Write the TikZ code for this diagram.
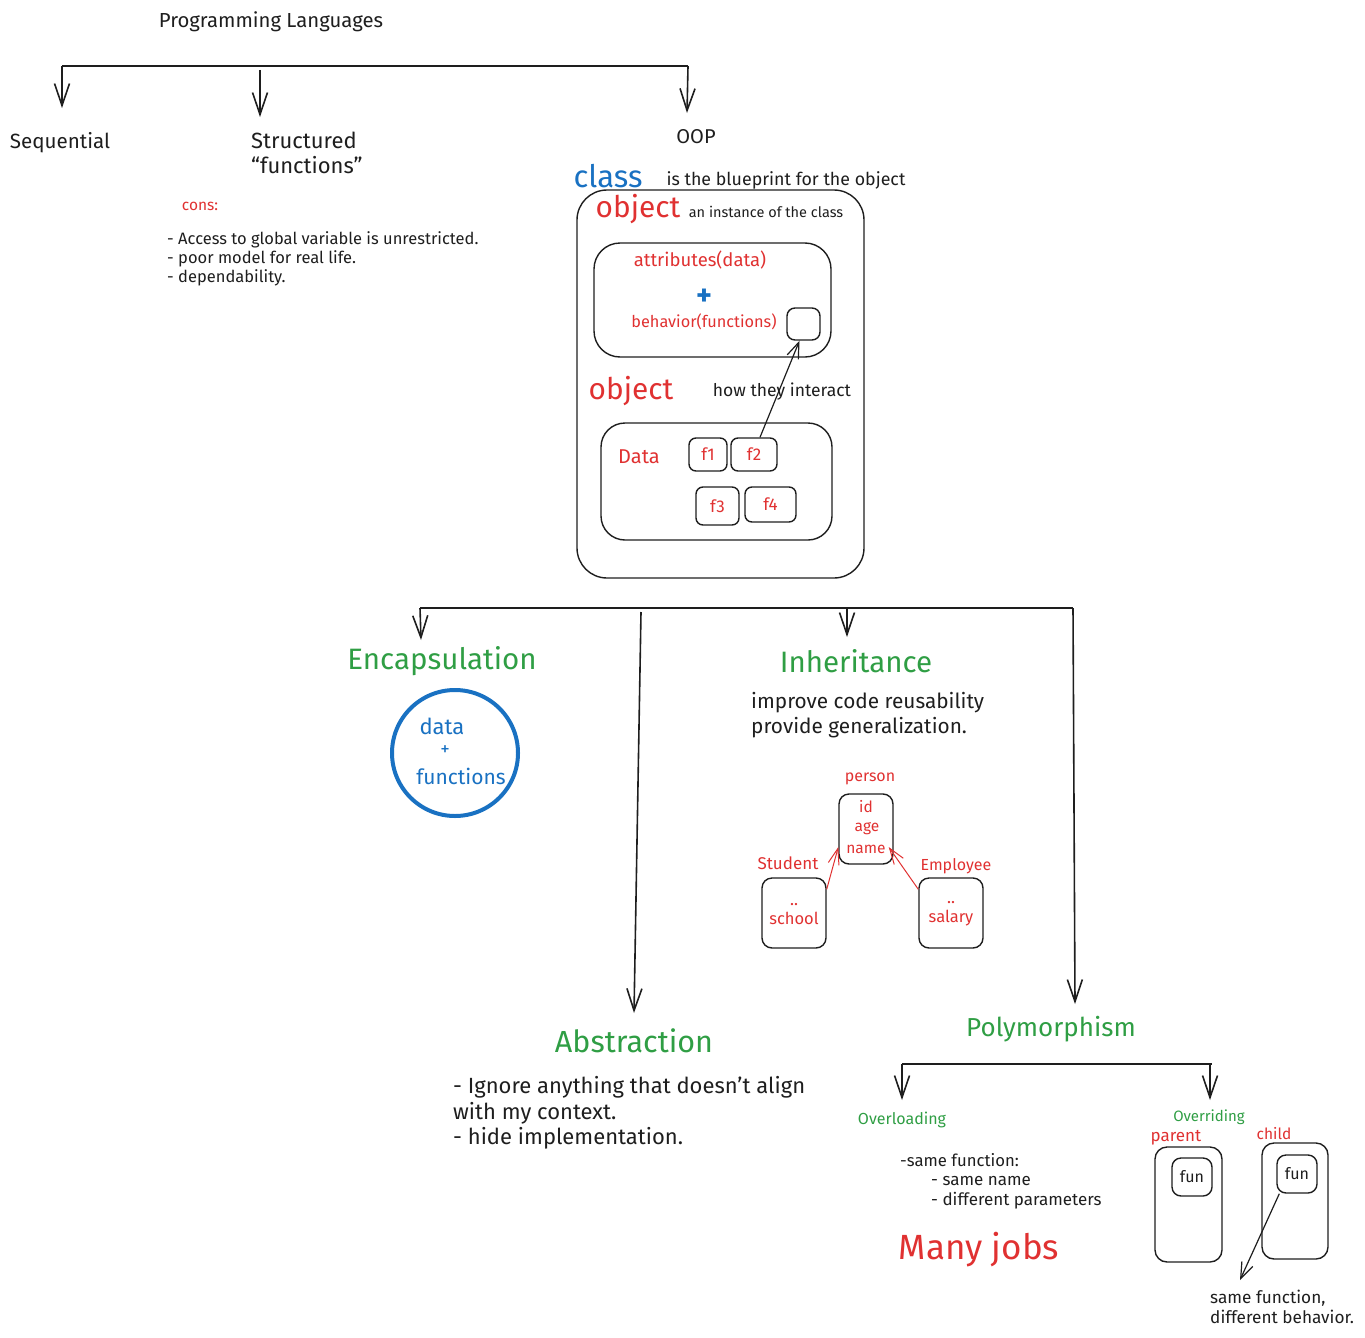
\documentclass[tikz,border=0pt]{standalone}
\usepackage{fontspec}
\setmainfont{Fira Sans}
\usetikzlibrary{arrows.meta}
\definecolor{inkred}{HTML}{E03131}
\definecolor{inkblue}{HTML}{1971C2}
\definecolor{inkgreen}{HTML}{2F9E44}
\definecolor{ink}{HTML}{1E1E1E}
\newcommand{\fs}[1]{\fontsize{#1}{\fpeval{1.17*#1}}\selectfont}
\tikzset{
  txt/.style={inner sep=0pt, text=ink, font=\fs{#1}},
  txt/.default=16,
  rtxt/.style={txt=#1, text=inkred},
  gtxt/.style={txt=#1, text=inkgreen},
  btxt/.style={txt=#1, text=inkblue},
  box/.style={draw=ink, line width=1.4pt, rounded corners=#1},
  box/.default=10pt,
  tree/.style={draw=ink, line width=1.6pt},
  arr/.style={draw=ink, line width=1.6pt, -{Straight Barb[length=22pt,width=15pt,line width=1.6pt]}},
  thin arr/.style={draw=ink, line width=1.2pt, -{Straight Barb[length=16pt,width=12pt,line width=1.2pt]}},
  red arr/.style={draw=inkred, line width=1pt, -{Straight Barb[length=16pt,width=11pt,line width=1pt]}},
}
\begin{document}
\begin{tikzpicture}[x=1pt,y=-1pt]
\useasboundingbox (0,0) rectangle (1365,1338);

%% ---------- Programming languages tree ----------
\node[txt=20.3] (pl) at (271,22) {Programming Languages};
\coordinate (tl) at (62,66);
\coordinate (tr) at (688,66);
\coordinate (ts) at (260,70);
\draw[tree, line width=2.6pt] (tl) -- (tr);
\node[txt=20.6] (seq) at (60,143) {Sequential};
\node[txt=22, anchor=west, align=left] (str) at (251,153) {Structured\\``functions''};
\node[txt=20] (oop) at (696,137) {OOP};
\coordinate (seqin) at (62,108);
\coordinate (strin) at (260,117);
\coordinate (oopin) at (687,113);
\draw[arr] (tl) -- (seqin);
\draw[arr] (ts) -- (strin);
\draw[arr] (tr) -- (oopin);

%% cons of structured programming
\node[rtxt=15.5] (cons) at (200,206) {cons:};
\node[txt=16.5, anchor=west, align=left] (conslist) at (167,259)
  {- Access to global variable is unrestricted.\\
   - poor model for real life.\\
   - dependability.};

%% ---------- class / object ----------
\node[btxt=31] (cls) at (608,176) {class};
\node[txt=17.8] (clsd) at (786,180) {is the blueprint for the object};
\node[box=30pt, minimum width=287pt, minimum height=388pt] (outer) at (720.5,384) {};
\node[rtxt=29.8] (obj1) at (638,209) {object};
\node[txt=14.5] (obj1d) at (766,212) {an instance of the class};

\node[box=26pt, minimum width=237pt, minimum height=114pt] (ab) at (712.5,300) {};
\node[rtxt=18.5] (attr) at (700,260) {attributes(data)};
\node[btxt=30, font=\bfseries\fs{30}] (plus) at (704,297) {+};
\node[rtxt=16.3] (beh) at (704,322) {behavior(functions)};
\node[box=8pt, minimum width=33pt, minimum height=32pt] (slot) at (803.5,324) {};

\node[rtxt=29.8] (obj2) at (631,391) {object};
\node[txt=17.5] (howi) at (782,392) {how they interact};

\node[box=24pt, minimum width=231pt, minimum height=117pt] (ob) at (716.5,481.5) {};
\node[rtxt=20] (data) at (639,457) {Data};
\node[box=7pt, rtxt=17, minimum width=38pt, minimum height=33pt] (f1) at (708,454.5) {f1};
\node[box=7pt, rtxt=17, minimum width=46pt, minimum height=33pt] (f2) at (754,454.5) {f2};
\node[box=7pt, rtxt=17, minimum width=43pt, minimum height=38pt] (f3) at (717.5,506) {f3};
\node[box=7pt, rtxt=17, minimum width=51pt, minimum height=35pt] (f4) at (770.5,504.5) {f4};
\draw[thin arr] ([xshift=6pt]f2.north) -- ([xshift=-4pt]slot.south);

%% ---------- four pillars ----------
\coordinate (pl4) at (420,608);
\coordinate (pr4) at (1073,608);
\coordinate (pa) at (641,612);
\coordinate (pi) at (847,608);
\draw[tree] (pl4) -- (pr4);
\coordinate (encin) at (421,640);
\coordinate (inhin) at (847,637);
\coordinate (absin) at (634,1013);
\coordinate (polyin) at (1075,1004);

\node[gtxt=29.5] (enc) at (442,661) {Encapsulation};
\draw[arr] (pl4) -- (encin);
\node[circle, draw=inkblue, line width=4pt, minimum size=126pt] (cap) at (455,753) {};
\node[btxt=22] (capd) at (442,726) {data};
\node[btxt=19] (capp) at (445,751) {+};
\node[btxt=21] (capf) at (461,776) {functions};

\node[gtxt=29.5] (inh) at (856,661) {Inheritance};
\draw[arr] (pi) -- (inhin);
\node[txt=20.8, anchor=west, align=left] (inhd) at (751,715)
  {improve code reusability\\provide generalization.};

\node[rtxt=16] (personl) at (870,779) {person};
\node[box=10pt, minimum width=54pt, minimum height=70pt] (person) at (866,829) {};
\node[rtxt=15.5] (pid) at (866,807) {id};
\node[rtxt=15.5] (page) at (867,829) {age};
\node[rtxt=15.5] (pname) at (866,849) {name};
\node[rtxt=17] (studl) at (788,863) {Student};
\node[box=10pt, minimum width=64pt, minimum height=70pt] (stud) at (794,913) {};
\node[rtxt=16.5, align=center] (studd) at (794,914) {..\\school};
\node[rtxt=16] (empl) at (956,866) {Employee};
\node[box=10pt, minimum width=64pt, minimum height=70pt] (emp) at (951,913) {};
\node[rtxt=16.5, align=center] (empd) at (951,914) {..\\salary};
\draw[red arr] ([yshift=-12pt]stud.north east) -- ([yshift=-18pt]person.west);
\draw[red arr] ([yshift=-12pt]emp.north west) -- ([xshift=-5pt,yshift=-18pt]person.east);

\node[gtxt=30.5] (abs) at (634,1041) {Abstraction};
\draw[arr] (pa) -- (absin);
\node[txt=22, anchor=west, align=left] (absd) at (453,1113)
  {- Ignore anything that doesn't align\\with my context.\\- hide implementation.};

\node[gtxt=26] (poly) at (1051,1029) {Polymorphism};
\draw[arr] (pr4) -- (polyin);

%% ---------- polymorphism ----------
\coordinate (yl) at (902,1064);
\coordinate (yr) at (1212,1064);
\coordinate (ovlin) at (902,1100);
\coordinate (ovrin) at (1210,1100);
\draw[tree] (yl) -- (yr);
\node[gtxt=16] (ovl) at (902,1120) {Overloading};
\node[gtxt=15] (ovr) at (1209,1117) {Overriding};
\draw[arr] (yl) -- (ovlin);
\draw[arr] ([xshift=-2pt]yr) -- (ovrin);

\node[txt=16.7, anchor=west] (sf) at (900,1160) {-same function:};
\node[txt=17, anchor=west, align=left] (sfl) at (931,1193)
  {- same name\\- different parameters};
\node[rtxt=35] (many) at (979,1250) {Many jobs};

\node[rtxt=17] (parl) at (1176,1138) {parent};
\node[rtxt=15.5] (chl) at (1274,1134) {child};
\node[box=12pt, minimum width=67pt, minimum height=115pt] (par) at (1188.5,1204.5) {};
\node[box=9pt, txt=16, minimum width=40pt, minimum height=38pt] (parf) at (1192,1177) {fun};
\node[box=12pt, minimum width=66pt, minimum height=116pt] (chi) at (1295,1201) {};
\node[box=9pt, txt=16, minimum width=40pt, minimum height=38pt] (chif) at (1297,1174) {fun};
\node[txt=17.2, anchor=west, align=left] (sfdb) at (1210,1307)
  {same function,\\different behavior.};
\coordinate (sfdbin) at (1240,1280);
\draw[thin arr] ([xshift=3pt]chif.south west) -- (sfdbin);
\end{tikzpicture}
\end{document}
